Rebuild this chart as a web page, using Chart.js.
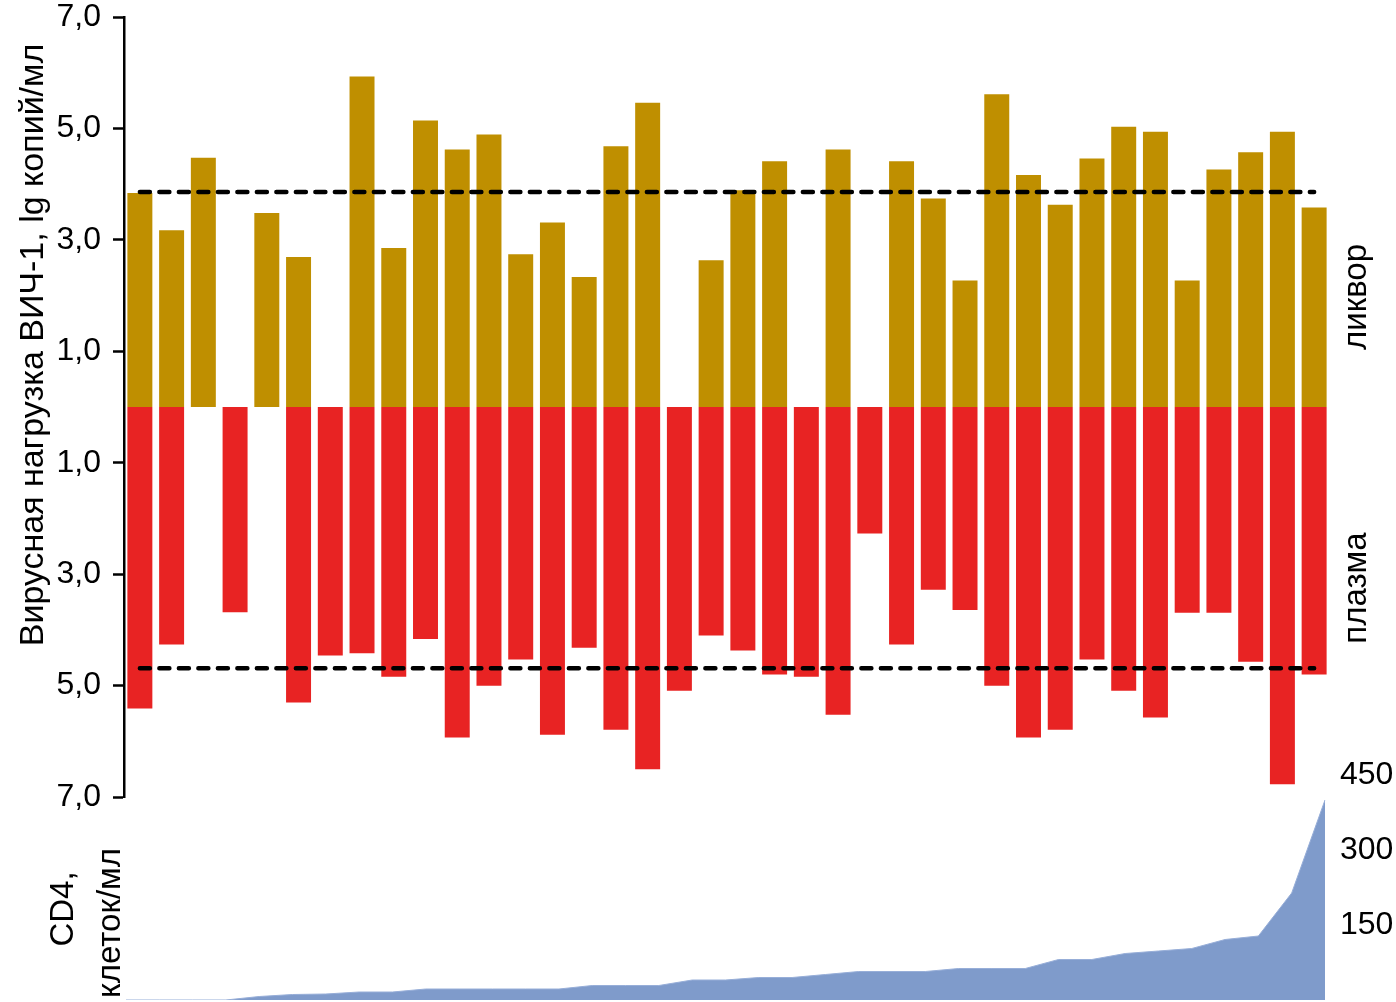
<!DOCTYPE html>
<html><head><meta charset="utf-8">
<script src="https://cdn.jsdelivr.net/npm/chart.js@4.4.1/dist/chart.umd.min.js"></script>
<style>
html,body{margin:0;padding:0;background:#fff;width:1396px;height:1002px;overflow:hidden;position:relative}
#top{position:absolute;left:0;top:-23px}
#bot{position:absolute;left:0;top:735px}
</style></head><body>
<canvas id="top" width="1396" height="860"></canvas>
<canvas id="bot" width="1396" height="305"></canvas>
<script>
// ---- data ----
const patients = ['1','2','3','4','5','6','7','8','9','10','11','12','13','14','15','16','17','18','19','20','21','22','23','24','25','26','27','28','29','30','31','32','33','34','35','36','37','38'];
const csfLoad = [3.86,3.19,4.49,null,3.50,2.71,null,5.95,2.87,5.16,4.64,4.91,2.76,3.33,2.35,4.70,5.48,null,2.65,3.91,4.43,null,4.64,null,4.43,3.76,2.29,5.63,4.18,3.65,4.48,5.05,4.96,2.29,4.28,4.59,4.96,3.60];
const plasmaLoad = [5.43,4.28,null,3.70,null,5.32,4.48,4.44,4.86,4.18,5.95,5.02,4.55,5.90,4.34,5.81,6.52,5.11,4.12,4.39,4.82,4.86,5.54,2.29,4.28,3.30,3.66,5.02,5.95,5.81,4.55,5.11,5.59,3.71,3.71,4.59,6.79,4.82];
const csfThreshold = 3.86;
const plasmaThreshold = 4.69;
const loadTickValues = [7,5,3,1,-1,-3,-5,-7];
const cd4Points = ['1','2','3','4','5','6','7','8','9','10','11','12','13','14','15','16','17','18','19','20','21','22','23','24','25','26','27','28','29','30','31','32','33','34','35','36','37'];
const cd4Counts = [0,0,0,0,7,11,12,16,16,22,22,22,22,22,29,29,29,40,40,45,45,51,57,57,57,63,63,63,81,81,93,98,103,121,128,214,400];
const cd4TickValues = [150,300,450];

const FONT = '"Liberation Sans", Arial, sans-serif';
function vText(ctx, str, x, y, align, size) {
  ctx.save();
  ctx.translate(x, y);
  ctx.rotate(-Math.PI / 2);
  ctx.font = size + 'px ' + FONT;
  ctx.fillStyle = '#000';
  ctx.textAlign = align;
  ctx.textBaseline = 'alphabetic';
  ctx.fillText(str, 0, 0);
  ctx.restore();
}

const TOP_OFF = -23, BOT_OFF = 735;

new Chart(document.getElementById('top'), {
  data: {
    labels: patients,
    datasets: [
      {type:'line', data: patients.map(() => csfThreshold), borderColor:'#000', borderWidth:4.5, borderDash:[10,9.5], borderCapStyle:'round', pointRadius:0, fill:false, order:0},
      {type:'line', data: patients.map(() => -plasmaThreshold), borderColor:'#000', borderWidth:4.5, borderDash:[10,9.5], borderCapStyle:'round', pointRadius:0, fill:false, order:0},
      {type:'bar', label:'ликвор', data: csfLoad, backgroundColor:'#BF8F00', borderColor:'rgba(255,255,255,0.35)', borderWidth:1, barPercentage:0.85, categoryPercentage:1, order:1},
      {type:'bar', label:'плазма', data: plasmaLoad.map(v => v == null ? null : -v), backgroundColor:'#E82323', borderColor:'rgba(255,255,255,0.35)', borderWidth:1, barPercentage:0.85, categoryPercentage:1, order:1}
    ]
  },
  options: {
    responsive:false, animation:false,
    layout:{padding:{left:0, right:66, top:40, bottom:40}},
    plugins:{legend:{display:false}, tooltip:{enabled:false}},
    scales:{
      x:{stacked:true, display:false, offset:true, grid:{display:false}},
      y:{stacked:false, min:-7, max:7,
        afterBuildTicks(s){ s.ticks = loadTickValues.map(v => ({value:v})); },
        afterFit(s){ s.width = 124; },
        ticks:{callback: v => Math.abs(v).toFixed(1).replace('.', ','), font:{family:FONT, size:32}, color:'#000', padding:12},
        grid:{drawOnChartArea:false, drawTicks:true, tickLength:11, tickWidth:2.5, tickColor:'#000'},
        border:{display:true, color:'#000', width:2.5}
      }
    }
  },
  plugins:[{
    id:'texts',
    afterDraw(chart){
      const ctx = chart.ctx, o = -TOP_OFF;
      vText(ctx, 'Вирусная нагрузка ВИЧ-1, lg копий/мл', 43, 345 + o, 'center', 34);
      vText(ctx, 'ликвор', 1366, 297 + o, 'center', 33);
      vText(ctx, 'плазма', 1366, 588 + o, 'center', 33);
    }
  }]
});

new Chart(document.getElementById('bot'), {
  type:'line',
  data:{
    labels: cd4Points,
    datasets:[{data: cd4Counts, fill:'origin', backgroundColor:'#7F9BCB', borderColor:'#97AED8', borderWidth:1, pointRadius:0, tension:0}]
  },
  options:{
    responsive:false, animation:false,
    layout:{padding:{left:126, right:0, top:40, bottom:40}},
    plugins:{legend:{display:false}, tooltip:{enabled:false}},
    scales:{
      x:{display:false, offset:false},
      y:{position:'right', min:0, max:450,
        afterBuildTicks(s){ s.ticks = cd4TickValues.map(v => ({value:v})); },
        afterFit(s){ s.width = 71; },
        grid:{display:false, drawTicks:false},
        border:{display:false},
        ticks:{font:{family:FONT, size:32}, color:'#000', padding:15}
      }
    }
  },
  plugins:[{
    id:'texts2',
    afterDraw(chart){
      const ctx = chart.ctx, o = -BOT_OFF;
      vText(ctx, 'CD4,', 73, 909 + o, 'center', 33);
      vText(ctx, 'клеток/мл', 120, 848 + o, 'right', 33);
    }
  }]
});
</script>
</body></html>
